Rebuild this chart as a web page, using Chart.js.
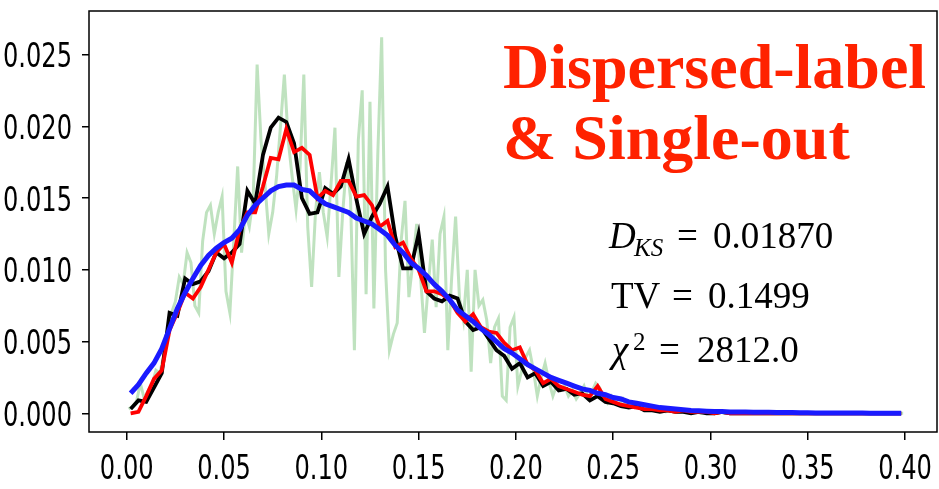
<!DOCTYPE html>
<html>
<head>
<meta charset="utf-8">
<script src="https://cdn.jsdelivr.net/npm/chart.js@4.4.1/dist/chart.umd.min.js"></script>
<style>
  html, body { margin: 0; padding: 0; background: #fff; }
  #wrap { width: 939px; height: 489px; }
</style>
</head>
<body>
<div id="wrap"><canvas id="distChart" width="939" height="489"></canvas></div>
<script>
// bin centres (histogram grid)
const fineBins = Array.from({ length: 200 }, (_, i) => +(0.001 + 0.002 * i).toFixed(3));
const coarseBins = Array.from({ length: 100 }, (_, i) => +(0.002 + 0.004 * i).toFixed(3));

const xTicks = [0, 0.05, 0.10, 0.15, 0.20, 0.25, 0.30, 0.35, 0.40];
const xTickLabels = ['0.00', '0.05', '0.10', '0.15', '0.20', '0.25', '0.30', '0.35', '0.40'];
const yTicks = [0, 0.005, 0.010, 0.015, 0.020, 0.025];
const yTickLabels = ['0.000', '0.005', '0.010', '0.015', '0.020', '0.025'];

// raw (noisy) histogram, light green
const rawHist = [
  0.0003, 0.0005, 0.0008, 0.0021, 0.0010, 0.0016, 0.0020, 0.0030, 0.0028, 0.0040,
  0.0055, 0.0070, 0.0078, 0.0095, 0.0090, 0.0112, 0.0105, 0.0075, 0.0070, 0.0120,
  0.0140, 0.0145, 0.0125, 0.0140, 0.0151, 0.0085, 0.0070, 0.0120, 0.0172, 0.0112,
  0.0140, 0.0130, 0.0150, 0.0243, 0.0190, 0.0160, 0.0125, 0.0140, 0.0165, 0.0200,
  0.0236, 0.0190, 0.0165, 0.0142, 0.0170, 0.0236, 0.0130, 0.0088, 0.0140, 0.0168,
  0.0140, 0.0123, 0.0160, 0.0199, 0.0095, 0.0140, 0.0175, 0.0150, 0.0044, 0.0190,
  0.0225, 0.0083, 0.0217, 0.0073, 0.0180, 0.0262, 0.0100, 0.0044, 0.0055, 0.0063,
  0.0120, 0.0148, 0.0081, 0.0105, 0.0132, 0.0095, 0.0056, 0.0090, 0.0121, 0.0074,
  0.0125, 0.0137, 0.0044, 0.0095, 0.0137, 0.0080, 0.0065, 0.0100, 0.0029, 0.0100,
  0.0075, 0.0079, 0.0065, 0.0035, 0.0060, 0.0066, 0.0012, 0.0009, 0.0060, 0.0067,
  0.0019, 0.0030, 0.0039, 0.0044, 0.0030, 0.0012, 0.0025, 0.0035, 0.0022, 0.0012,
  0.0020, 0.0016, 0.0019, 0.0012, 0.0016, 0.0010, 0.0014, 0.0019, 0.0011, 0.0015,
  0.0021, 0.0018, 0.0010, 0.0007, 0.0012, 0.0008, 0.0006, 0.0010, 0.0005, 0.0007,
  0.0004, 0.0006, 0.0003, 0.0005, 0.0003, 0.0002, 0.0004, 0.0002, 0.0001, 0.0003,
  0.0002, 0.0001, 0.0002, 0.0001, 0.0001, 0.0002, 0.0001, 0.0000, 0.0001, 0.0001,
  0.0001, 0.0000, 0.0001, 0.0000, 0.0001, 0.0000, 0.0000, 0.0001, 0.0000, 0.0000,
  0.0000, 0.0000, 0.0000, 0.0000, 0.0000, 0.0000, 0.0000, 0.0000, 0.0000, 0.0000,
  0.0000, 0.0000, 0.0000, 0.0000, 0.0000, 0.0000, 0.0000, 0.0000, 0.0000, 0.0000,
  0.0000, 0.0000, 0.0000, 0.0000, 0.0000, 0.0000, 0.0000, 0.0000, 0.0000, 0.0000,
  0.0000, 0.0000, 0.0000, 0.0000, 0.0000, 0.0000, 0.0000, 0.0000, 0.0000, 0.0000
];

// black curve
const blackCurve = [
  0.0003, 0.0009, 0.0008, 0.0018, 0.0028, 0.0070, 0.0068, 0.0094, 0.0090, 0.0092,
  0.0099, 0.0112, 0.0108, 0.0112, 0.0118, 0.0155, 0.0146, 0.0180, 0.0199, 0.0206,
  0.0203, 0.0188, 0.0150, 0.0139, 0.0140, 0.0157, 0.0153, 0.0158, 0.0177, 0.0149,
  0.0125, 0.0137, 0.0146, 0.0158, 0.0123, 0.0101, 0.0101, 0.0125, 0.0085, 0.0080,
  0.0078, 0.0082, 0.0080, 0.0064, 0.0058, 0.0060, 0.0052, 0.0044, 0.0040, 0.0031,
  0.0035, 0.0025, 0.0028, 0.0019, 0.0022, 0.0016, 0.0017, 0.0013, 0.0014, 0.0009,
  0.0012, 0.0008, 0.0007, 0.0005, 0.0004, 0.0005, 0.0002, 0.0002, 0.0001, 0.0002,
  0.0001, 0.0001, 0.0000, 0.0001, 0.0000, 0.0000, 0.0001, 0.0000, 0.0000, 0.0000,
  0.0000, 0.0000, 0.0000, 0.0000, 0.0000, 0.0000, 0.0000, 0.0000, 0.0000, 0.0000,
  0.0000, 0.0000, 0.0000, 0.0000, 0.0000, 0.0000, 0.0000, 0.0000, 0.0000, 0.0000
];

// red curve
const redCurve = [
  0.0000, 0.0001, 0.0012, 0.0024, 0.0030, 0.0058, 0.0070, 0.0084, 0.0080, 0.0088,
  0.0100, 0.0112, 0.0118, 0.0105, 0.0128, 0.0140, 0.0140, 0.0158, 0.0178, 0.0177,
  0.0198, 0.0182, 0.0185, 0.0180, 0.0150, 0.0155, 0.0152, 0.0162, 0.0162, 0.0151,
  0.0152, 0.0145, 0.0130, 0.0134, 0.0116, 0.0119, 0.0108, 0.0100, 0.0085, 0.0085,
  0.0083, 0.0079, 0.0070, 0.0064, 0.0069, 0.0060, 0.0057, 0.0056, 0.0049, 0.0044,
  0.0046, 0.0034, 0.0030, 0.0021, 0.0024, 0.0019, 0.0017, 0.0015, 0.0013, 0.0012,
  0.0019, 0.0010, 0.0008, 0.0006, 0.0005, 0.0004, 0.0003, 0.0003, 0.0002, 0.0002,
  0.0001, 0.0002, 0.0001, 0.0001, 0.0001, 0.0000, 0.0001, 0.0000, 0.0000, 0.0000,
  0.0000, 0.0000, 0.0000, 0.0000, 0.0000, 0.0000, 0.0000, 0.0000, 0.0000, 0.0000,
  0.0000, 0.0000, 0.0000, 0.0000, 0.0000, 0.0000, 0.0000, 0.0000, 0.0000, 0.0000
];

// blue smooth fit
const blueCurve = [
  0.0014, 0.0020, 0.0028, 0.0035, 0.0045, 0.0059, 0.0073, 0.0084, 0.0094, 0.0103,
  0.0110, 0.0115, 0.0119, 0.0122, 0.0128, 0.0138, 0.0145, 0.0150, 0.0155, 0.0158,
  0.0159, 0.0159, 0.0156, 0.0155, 0.0150, 0.0146, 0.0144, 0.0142, 0.0140, 0.0136,
  0.0134, 0.0132, 0.0128, 0.0124, 0.0117, 0.0112, 0.0105, 0.0101, 0.0096, 0.0090,
  0.0085, 0.0079, 0.0072, 0.0068, 0.0064, 0.0059, 0.0055, 0.0050, 0.0045, 0.0042,
  0.0038, 0.0034, 0.0031, 0.0028, 0.0025, 0.0023, 0.0021, 0.0019, 0.0017, 0.0016,
  0.0014, 0.0013, 0.0011, 0.0010, 0.0008, 0.0007, 0.0006, 0.0005, 0.0004, 0.00035,
  0.0003, 0.00025, 0.0002, 0.00018, 0.00015, 0.00013, 0.00012, 0.0001, 0.0001, 0.00009,
  0.00008, 0.00007, 0.00007, 0.00006, 0.00005, 0.00005, 0.00004, 0.00004, 0.00003, 0.00003,
  0.00003, 0.00002, 0.00002, 0.00002, 0.00002, 0.00001, 0.00001, 0.00001, 0.00001, 0.00001
];

const toPoints = (xs, ys) => xs.map((x, i) => ({ x: x, y: ys[i] }));

const serif = "'Liberation Serif', 'Times New Roman', serif";
const tickFont = "34px 'DejaVu Sans', sans-serif";
const narrow = 0.71; // matplotlib labels in the source are horizontally squeezed

// draws a condensed label (matplotlib-like tick text)
function narrowText(ctx, text, x, y, align) {
  ctx.save();
  ctx.translate(x, y);
  ctx.scale(narrow, 1);
  ctx.textAlign = align;
  ctx.fillText(text, 0, 0);
  ctx.restore();
}

// frame, tick labels and annotation text
const framePlugin = {
  id: 'frame',
  afterDraw(chart) {
    const { ctx, chartArea: a, scales } = chart;
    ctx.save();
    ctx.strokeStyle = '#000';
    ctx.lineWidth = 1.5;
    ctx.strokeRect(a.left, a.top, a.right - a.left, a.bottom - a.top);

    ctx.fillStyle = '#000';
    ctx.font = tickFont;
    ctx.textBaseline = 'alphabetic';
    yTicks.forEach((v, i) => {
      narrowText(ctx, yTickLabels[i], a.left - 17, scales.y.getPixelForValue(v) + 12.5, 'right');
    });
    xTicks.forEach((v, i) => {
      narrowText(ctx, xTickLabels[i], scales.x.getPixelForValue(v), a.bottom + 47, 'center');
    });

    ctx.fillStyle = '#ff2200';
    ctx.font = 'bold 64px ' + serif;
    ctx.textAlign = 'left';
    ctx.fillText('Dispersed-label', 503, 88);
    ctx.fillText('& Single-out', 503, 159);

    ctx.fillStyle = '#000';
    // D_KS = 0.01870
    ctx.font = 'italic 37px ' + serif;
    ctx.fillText('D', 609, 248);
    ctx.font = 'italic 25px ' + serif;
    ctx.fillText('KS', 634, 256);
    ctx.font = '37px ' + serif;
    ctx.fillText('=', 677, 248);
    ctx.fillText('0.01870', 713, 248);
    // TV = 0.1499
    ctx.fillText('TV', 611, 308);
    ctx.fillText('=', 672, 308);
    ctx.fillText('0.1499', 708, 308);
    // chi^2 = 2812.0
    ctx.font = 'italic 37px ' + serif;
    ctx.fillText('\u03c7', 612, 362);
    ctx.font = '25px ' + serif;
    ctx.fillText('2', 633, 350);
    ctx.font = '37px ' + serif;
    ctx.fillText('=', 659, 362);
    ctx.fillText('2812.0', 697, 362);
    ctx.restore();
  }
};

const ctx = document.getElementById('distChart').getContext('2d');
const distChart = new Chart(ctx, {
  type: 'line',
  data: {
    datasets: [
      {
        label: 'fit',
        data: toPoints(coarseBins, blueCurve),
        borderColor: '#1a1aff',
        borderWidth: 5,
        pointRadius: 0,
        tension: 0,
        fill: false
      },
      {
        label: 'red',
        data: toPoints(coarseBins, redCurve),
        borderColor: '#ff0000',
        borderWidth: 3.8,
        pointRadius: 0,
        tension: 0,
        fill: false
      },
      {
        label: 'black',
        data: toPoints(coarseBins, blackCurve),
        borderColor: '#000000',
        borderWidth: 3.8,
        pointRadius: 0,
        tension: 0,
        fill: false
      },
      {
        label: 'raw',
        data: toPoints(fineBins, rawHist),
        borderColor: 'rgba(44, 160, 44, 0.3)',
        borderWidth: 3,
        pointRadius: 0,
        tension: 0,
        fill: false
      }
    ]
  },
  options: {
    responsive: false,
    animation: false,
    layout: { padding: { top: 11, right: 2, left: 0, bottom: 0 } },
    plugins: {
      legend: { display: false },
      tooltip: { enabled: false }
    },
    scales: {
      x: {
        type: 'linear',
        min: -0.0194,
        max: 0.4164,
        afterBuildTicks: (scale) => { scale.ticks = xTicks.map(v => ({ value: v })); },
        afterFit: (scale) => { scale.height = 57; },
        grid: { drawOnChartArea: false, drawTicks: true, tickLength: 8, color: '#000', lineWidth: 1.5 },
        border: { display: false },
        ticks: { display: false }
      },
      y: {
        type: 'linear',
        min: -0.0013,
        max: 0.02803,
        afterBuildTicks: (scale) => { scale.ticks = yTicks.map(v => ({ value: v })); },
        afterFit: (scale) => { scale.width = 89; },
        grid: { drawOnChartArea: false, drawTicks: true, tickLength: 7, color: '#000', lineWidth: 1.5 },
        border: { display: false },
        ticks: { display: false }
      }
    }
  },
  plugins: [framePlugin]
});
</script>
</body>
</html>
